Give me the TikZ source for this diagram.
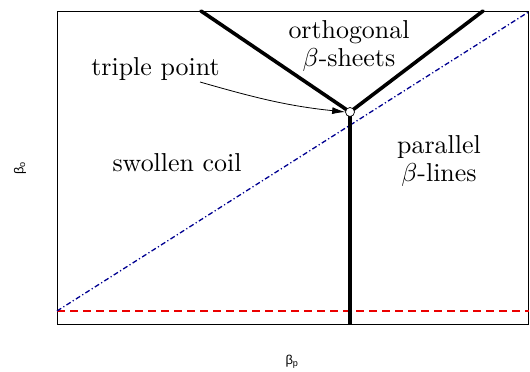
\documentclass[tikz,border=0pt]{standalone}
\usepackage{fontspec}
\newfontfamily\axisfont{Liberation Sans}
\usetikzlibrary{arrows.meta}
\definecolor{dashblue}{RGB}{0,0,145}
\definecolor{dashred}{RGB}{235,0,0}
\tikzset{
  phaseline/.style={line width=3.6bp, line cap=round},
  framebox/.style={draw=black, line width=0.9bp},
  lbl/.style={scale=2.6, font=\fontsize{10}{10.6}\selectfont, align=center, anchor=base, inner sep=0pt},
  axlbl/.style={font=\axisfont\fontsize{13}{15}\selectfont, inner sep=0pt},
}
\begin{document}
\begin{tikzpicture}[x=1bp,y=1bp]
\useasboundingbox (0,0) rectangle (530,371);
% frame corners
\coordinate (bl) at (57,47);
\coordinate (tr) at (528.5,360);
\draw[framebox] (bl) rectangle (tr);
% key points
\coordinate (lt) at (201,360);
\coordinate (rt) at (483,360);
\coordinate (vb) at (350,46);
\coordinate (dl) at (57,60);
\coordinate (dr) at (528.5,359);
\coordinate (rl) at (57,60);
\coordinate (rr) at (528.5,60);
% dashed lines
\draw[dashred, line width=1.3bp, dash pattern=on 8bp off 5bp] (rl) -- (rr);
\draw[dashblue, line width=1.3bp, dash pattern=on 5bp off 2.5bp on 1.2bp off 2.5bp] (dl) -- (dr);
% phase boundaries
\draw[phaseline] (lt) -- (350,259) -- (rt);
\draw[line width=3.6bp] (350,259) -- (vb);
\node[circle, draw=black, fill=white, line width=0.7bp, minimum size=9bp, inner sep=0pt] (tp) at (350,259) {};
% labels
\node[lbl] (ltp) at (155.5,296) {triple point};
\node[lbl] (lsc) at (177,199.3) {swollen coil};
\node[lbl] (lob) at (349,305) {orthogonal\\$\beta$-sheets};
\node[lbl] (lpb) at (439,190) {parallel\\$\beta$-lines};
\coordinate (as) at (200,289);
\draw[line width=0.8bp, -{Latex[length=13bp,width=7bp]}] (as) to[out=-16, in=174] (tp.west);
% axis labels
\node[axlbl] (xl) at (292,9) {β\textsubscript{p}};
\node[axlbl, rotate=90] (yl) at (20,203) {β\textsubscript{o}};
\end{tikzpicture}
\end{document}
